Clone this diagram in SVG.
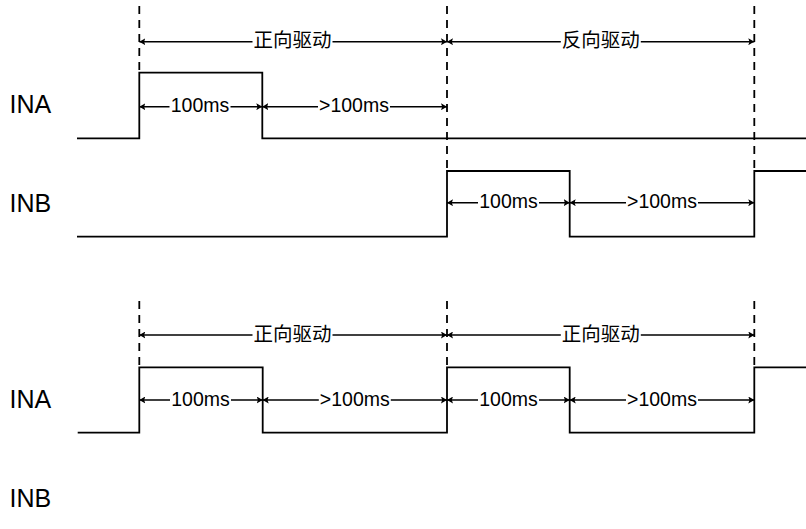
<svg xmlns="http://www.w3.org/2000/svg" width="806" height="529" viewBox="0 0 806 529">
<defs>
<style>
.bg{fill:#ffffff}
.wave{fill:none;stroke:#000;stroke-width:1.8;stroke-linejoin:miter}
.guide{fill:none;stroke:#000;stroke-width:1.8;stroke-dasharray:8 6}
.dim{fill:none;stroke:#000;stroke-width:1.5;marker-start:url(#arr);marker-end:url(#arr)}
.sig{font-family:"Liberation Sans",Arial,sans-serif;font-size:25px;fill:#000}
.lbl{font-family:"Liberation Sans","Noto Sans CJK SC",sans-serif;font-size:19.5px;fill:#000;text-anchor:middle}
.cjk{font-family:"Noto Sans CJK SC","Liberation Sans",sans-serif;font-size:19.5px;fill:#000;text-anchor:middle}
.mask{fill:#ffffff}
</style>
<marker id="arr" viewBox="0 0 6 7" refX="6" refY="3.5" markerWidth="6" markerHeight="7" markerUnits="userSpaceOnUse" orient="auto-start-reverse">
<path d="M0,0 L6,3.5 L0,7 L1.2,3.5 Z" fill="#000"/>
</marker>
</defs>
<rect class="bg" x="0" y="0" width="806" height="529"/>

<g id="signal-labels">
<text id="lbl-ina-1" class="sig" x="9.5" y="113.3">INA</text>
<text id="lbl-inb-1" class="sig" x="9.5" y="211.7">INB</text>
<text id="lbl-ina-2" class="sig" x="9.5" y="408.3">INA</text>
<text id="lbl-inb-2" class="sig" x="9.5" y="506.7">INB</text>
</g>

<g id="guides">
<line class="guide" x1="139.3" y1="6" x2="139.3" y2="72.7"/>
<line class="guide" x1="447" y1="6" x2="447" y2="171"/>
<line class="guide" x1="754.3" y1="6" x2="754.3" y2="171"/>
<line class="guide" x1="139.3" y1="301" x2="139.3" y2="367.3"/>
<line class="guide" x1="447" y1="301" x2="447" y2="367.3"/>
<line class="guide" x1="754.3" y1="301" x2="754.3" y2="367.3"/>
</g>

<g id="waveforms">
<path id="wave-ina-1" class="wave" d="M77,138.3 H139.3 V72.7 H262.3 V138.3 H806"/>
<path id="wave-inb-1" class="wave" d="M77,236.7 H447 V171 H569.7 V236.7 H754.3 V171 H806"/>
<path id="wave-ina-2" class="wave" d="M77.7,432.7 H139.3 V367.3 H262.7 V432.7 H447 V367.3 H569.7 V432.7 H754.3 V367.3 H806"/>
</g>

<g id="connectors">
<line class="dim" x1="139.3" y1="41.7" x2="447" y2="41.7"/>
<line class="dim" x1="447" y1="41.7" x2="754.3" y2="41.7"/>
<line class="dim" x1="139.3" y1="106.7" x2="262.3" y2="106.7"/>
<line class="dim" x1="262.3" y1="106.7" x2="447" y2="106.7"/>
<line class="dim" x1="447" y1="202.7" x2="569.7" y2="202.7"/>
<line class="dim" x1="569.7" y1="202.7" x2="754.3" y2="202.7"/>
<line class="dim" x1="139.3" y1="335" x2="447" y2="335"/>
<line class="dim" x1="447" y1="335" x2="754.3" y2="335"/>
<line class="dim" x1="139.3" y1="400" x2="262.7" y2="400"/>
<line class="dim" x1="262.7" y1="400" x2="447" y2="400"/>
<line class="dim" x1="447" y1="400" x2="569.7" y2="400"/>
<line class="dim" x1="569.7" y1="400" x2="754.3" y2="400"/>
</g>

<g id="dim-labels">
<rect class="mask" x="252.5" y="31" width="80" height="20"/>
<text class="cjk" x="292.5" y="47.3">正向驱动</text>
<rect class="mask" x="560.8" y="31" width="80" height="20"/>
<text class="cjk" x="600.8" y="47.3">反向驱动</text>
<rect class="mask" x="169.5" y="97" width="61" height="19"/>
<text class="lbl" x="200" y="112.3">100ms</text>
<rect class="mask" x="318" y="97" width="72" height="19"/>
<text class="lbl" x="354" y="112.3">&gt;100ms</text>
<rect class="mask" x="478" y="193" width="61" height="19"/>
<text class="lbl" x="508.5" y="208.3">100ms</text>
<rect class="mask" x="626" y="193" width="72" height="19"/>
<text class="lbl" x="662" y="208.3">&gt;100ms</text>

<rect class="mask" x="252.5" y="324.5" width="80" height="20"/>
<text class="cjk" x="292.5" y="340.6">正向驱动</text>
<rect class="mask" x="560.8" y="324.5" width="80" height="20"/>
<text class="cjk" x="600.8" y="340.6">正向驱动</text>
<rect class="mask" x="170" y="390.5" width="61" height="19"/>
<text class="lbl" x="200.5" y="405.6">100ms</text>
<rect class="mask" x="318.8" y="390.5" width="72" height="19"/>
<text class="lbl" x="354.8" y="405.6">&gt;100ms</text>
<rect class="mask" x="478" y="390.5" width="61" height="19"/>
<text class="lbl" x="508.5" y="405.6">100ms</text>
<rect class="mask" x="626" y="390.5" width="72" height="19"/>
<text class="lbl" x="662" y="405.6">&gt;100ms</text>
</g>
</svg>
